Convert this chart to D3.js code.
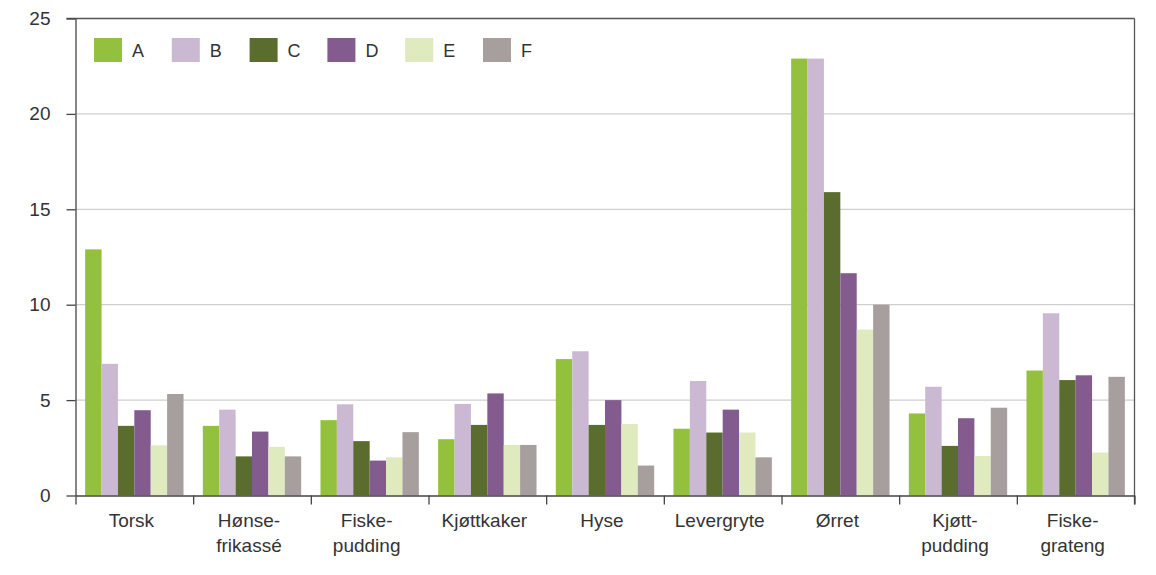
<!DOCTYPE html>
<html>
<head>
<meta charset="utf-8">
<script src="https://cdn.jsdelivr.net/npm/d3@7"></script>
<style>
  body { margin: 0; background: #fff; }
  text { font-family: "Liberation Sans", Arial, sans-serif; fill: #333; }
</style>
</head>
<body>
<div id="vis"></div>
<script>
// dishes along the x axis (split into two lines where the original breaks them)
const categories = ["Torsk", "Hønse-\nfrikassé", "Fiske-\npudding", "Kjøttkaker", "Hyse",
  "Levergryte", "Ørret", "Kjøtt-\npudding", "Fiske-\ngrateng"];

const seriesNames = ["A", "B", "C", "D", "E", "F"];

// one value per dish
const seriesA = [12.9, 3.65, 3.95, 2.95, 7.15, 3.5, 22.9, 4.3, 6.55];
const seriesB = [6.9, 4.5, 4.78, 4.8, 7.56, 6.0, 22.9, 5.7, 9.55];
const seriesC = [3.65, 2.05, 2.85, 3.7, 3.7, 3.3, 15.9, 2.6, 6.05];
const seriesD = [4.47, 3.35, 1.83, 5.35, 5.0, 4.5, 11.65, 4.05, 6.3];
const seriesE = [2.63, 2.55, 2.0, 2.65, 3.75, 3.3, 8.7, 2.07, 2.25];
const seriesF = [5.32, 2.05, 3.32, 2.65, 1.57, 2.0, 10.0, 4.6, 6.22];

const yTicks = [0, 5, 10, 15, 20, 25];

const colours = ["#93c13e", "#cbb9d3", "#5a6d2f", "#845b8f", "#dfeabf", "#a69f9d"];

const width = 1156;
const height = 575;
const margin = { top: 18.5, right: 21.5, bottom: 79.5, left: 75.5 };

const allSeries = [seriesA, seriesB, seriesC, seriesD, seriesE, seriesF];
const rows = categories.map((c, i) => {
  const row = { cat: c };
  seriesNames.forEach((s, j) => { row[s] = allSeries[j][i]; });
  return row;
});

const svg = d3.select("#vis").append("svg")
  .attr("width", width)
  .attr("height", height);

const x0 = d3.scaleBand()
  .domain(categories)
  .range([margin.left, width - margin.right])
  .paddingInner(0.164)
  .paddingOuter(0.082);

const x1 = d3.scaleBand()
  .domain(seriesNames)
  .range([0, x0.bandwidth()]);

const y = d3.scaleLinear()
  .domain([0, 25])
  .range([height - margin.bottom, margin.top]);

const colour = d3.scaleOrdinal().domain(seriesNames).range(colours);

// gridlines
svg.append("g")
  .selectAll("line")
  .data(yTicks.filter(t => t > 0 && t < 25))
  .enter().append("line")
  .attr("x1", margin.left)
  .attr("x2", width - margin.right)
  .attr("y1", d => y(d))
  .attr("y2", d => y(d))
  .attr("stroke", "#cfcfcf")
  .attr("stroke-width", 1.2);

// bars
svg.append("g")
  .selectAll("g")
  .data(rows)
  .enter().append("g")
  .attr("transform", d => `translate(${x0(d.cat)},0)`)
  .selectAll("rect")
  .data(d => seriesNames.map(s => ({ key: s, value: d[s] })))
  .enter().append("rect")
  .attr("x", d => x1(d.key))
  .attr("width", x1.bandwidth())
  .attr("y", d => y(d.value))
  .attr("height", d => y(0) - y(d.value))
  .attr("fill", d => colour(d.key));

// frame: top line and right edge
svg.append("line")
  .attr("x1", margin.left - 9).attr("x2", width - margin.right)
  .attr("y1", y(25)).attr("y2", y(25))
  .attr("stroke", "#555").attr("stroke-width", 1.3);
svg.append("line")
  .attr("x1", width - margin.right).attr("x2", width - margin.right)
  .attr("y1", y(25)).attr("y2", y(0) + 9)
  .attr("stroke", "#555").attr("stroke-width", 1.3);

// y axis
const yAxis = svg.append("g")
  .attr("transform", `translate(${margin.left},0)`)
  .call(d3.axisLeft(y).tickValues(yTicks).tickSize(9).tickPadding(16).tickSizeOuter(0));
yAxis.select(".domain").attr("stroke", "#444").attr("stroke-width", 1.3);
yAxis.selectAll(".tick line").attr("stroke", "#444").attr("stroke-width", 1.3);
yAxis.selectAll(".tick text")
  .style("font-size", "19px")
  .attr("fill", "#333");

// x axis: ticks between the groups
const xEdges = d3.scaleLinear()
  .domain([0, categories.length])
  .range([margin.left, width - margin.right]);
const xAxis = svg.append("g")
  .attr("transform", `translate(0,${y(0)})`)
  .call(d3.axisBottom(xEdges).ticks(categories.length).tickSize(9).tickFormat("").tickSizeOuter(0));
xAxis.select(".domain").attr("stroke", "#444").attr("stroke-width", 1.3);
xAxis.selectAll(".tick line").attr("stroke", "#444").attr("stroke-width", 1.3);

// category labels
const labels = svg.append("g")
  .selectAll("text")
  .data(categories)
  .enter().append("text")
  .attr("x", d => x0(d) + x0.bandwidth() / 2 - 3)
  .attr("y", y(0) + 31)
  .attr("text-anchor", "middle")
  .style("font-size", "19px");
labels.selectAll("tspan")
  .data(d => d.split("\n"))
  .enter().append("tspan")
  .attr("x", function() { return this.parentNode.getAttribute("x"); })
  .attr("dy", (d, i) => i === 0 ? 0 : 25)
  .text(d => d);

// legend
const legend = svg.append("g")
  .selectAll("g")
  .data(seriesNames)
  .enter().append("g")
  .attr("transform", (d, i) => `translate(${94 + i * 77.8},38)`);
legend.append("rect")
  .attr("width", 28)
  .attr("height", 24)
  .attr("fill", d => colour(d));
legend.append("text")
  .attr("x", 38)
  .attr("y", 19)
  .style("font-size", "18px")
  .text(d => d);
</script>
</body>
</html>
